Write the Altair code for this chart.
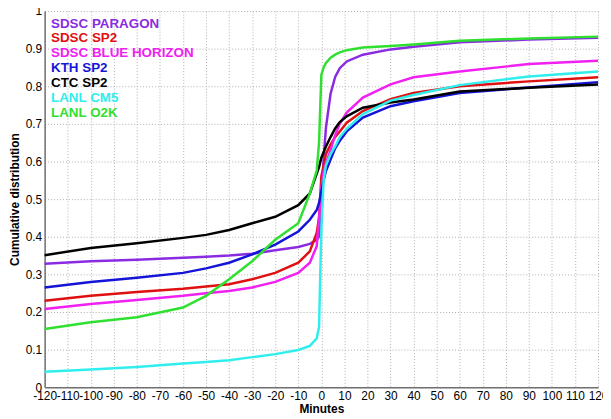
import altair as alt
import pandas as pd

minutes = [-120, -100, -80, -60, -50, -40, -30, -20, -10, -5, -2, -1, 0,
           1, 2, 4, 6, 8, 11, 18, 30, 40, 60, 90, 120]

series_names = ["SDSC PARAGON", "SDSC SP2", "SDSC BLUE HORIZON", "KTH SP2",
                "CTC SP2", "LANL CM5", "LANL O2K"]
series_colors = ["#8a2be2", "#e01010", "#f020f0", "#1414d8",
                 "#000000", "#30eeee", "#30e030"]

sdsc_paragon = [0.328, 0.335, 0.339, 0.344, 0.347, 0.350, 0.355, 0.364, 0.373, 0.381, 0.392, 0.400, 0.450,
                0.610, 0.690, 0.780, 0.825, 0.848, 0.866, 0.884, 0.898, 0.905, 0.917, 0.924, 0.929]
sdsc_sp2 = [0.230, 0.243, 0.253, 0.262, 0.268, 0.274, 0.287, 0.304, 0.331, 0.361, 0.410, 0.450, 0.560,
            0.590, 0.620, 0.645, 0.665, 0.680, 0.703, 0.734, 0.766, 0.782, 0.800, 0.813, 0.824]
sdsc_blue_horizon = [0.208, 0.221, 0.232, 0.243, 0.250, 0.256, 0.265, 0.280, 0.304, 0.331, 0.375, 0.450, 0.530,
                     0.575, 0.595, 0.630, 0.670, 0.700, 0.730, 0.770, 0.805, 0.824, 0.839, 0.859, 0.868]
kth_sp2 = [0.265, 0.280, 0.291, 0.304, 0.316, 0.331, 0.353, 0.379, 0.414, 0.445, 0.471, 0.490, 0.520,
           0.550, 0.575, 0.605, 0.635, 0.655, 0.680, 0.717, 0.747, 0.760, 0.782, 0.797, 0.811]
ctc_sp2 = [0.351, 0.370, 0.383, 0.397, 0.405, 0.418, 0.436, 0.453, 0.484, 0.515, 0.568, 0.585, 0.610,
           0.625, 0.640, 0.665, 0.688, 0.705, 0.720, 0.743, 0.757, 0.765, 0.786, 0.796, 0.805]
lanl_cm5 = [0.041, 0.047, 0.054, 0.063, 0.067, 0.072, 0.080, 0.088, 0.099, 0.110, 0.130, 0.160, 0.420,
            0.550, 0.590, 0.620, 0.640, 0.665, 0.687, 0.726, 0.762, 0.777, 0.803, 0.826, 0.839]
lanl_o2k = [0.155, 0.173, 0.186, 0.212, 0.243, 0.287, 0.335, 0.392, 0.436, 0.515, 0.576, 0.650, 0.830,
            0.850, 0.862, 0.876, 0.884, 0.890, 0.896, 0.903, 0.907, 0.911, 0.921, 0.927, 0.932]

all_values = [sdsc_paragon, sdsc_sp2, sdsc_blue_horizon, kth_sp2, ctc_sp2, lanl_cm5, lanl_o2k]

x_ticks = list(range(-120, 121, 10))
y_ticks = [round(i * 0.1, 1) for i in range(11)]

rows = []
for name, vals in zip(series_names, all_values):
    for m, v in zip(minutes, vals):
        rows.append({"series": name, "minutes": m, "value": v})
df = pd.DataFrame(rows)

color_expr = ""
for n, c in zip(series_names, series_colors):
    color_expr += f"datum.value == '{n}' ? '{c}' : "
color_expr += "'black'"

chart = alt.Chart(df).mark_line(strokeWidth=2.5).encode(
    x=alt.X("minutes:Q",
            scale=alt.Scale(domain=[-120, 120], nice=False, zero=False),
            axis=alt.Axis(values=x_ticks, title="Minutes",
                          labelExpr="'' + datum.value")),
    y=alt.Y("value:Q",
            scale=alt.Scale(domain=[0, 1], nice=False),
            axis=alt.Axis(values=y_ticks, title="Cumulative distribution",
                          format=".1~f")),
    color=alt.Color("series:N",
                    scale=alt.Scale(domain=series_names, range=series_colors),
                    legend=alt.Legend(orient="none", legendX=-7, legendY=6, title=None,
                                      symbolSize=0, symbolOpacity=0, symbolStrokeWidth=0,
                                      labelOffset=0, padding=0, rowPadding=0,
                                      labelFont="Liberation Sans", labelFontSize=13.5,
                                      labelFontWeight="bold", labelLimit=400,
                                      labelColor={"expr": color_expr})),
    order=alt.Order("minutes:Q"),
).properties(
    width=559, height=380,
    autosize=alt.AutoSizeParams(type="none"),
    padding={"left": 37, "top": 1, "right": 5, "bottom": 28},
).configure_view(
    stroke=None
).configure_axis(
    labelFont="Liberation Sans", labelFontSize=12, labelColor="black",
    titleFont="Liberation Sans", titleFontSize=12, titleFontWeight="bold", titleColor="black",
    grid=True, gridColor="#b0b0b0", gridDash=[1, 2], gridWidth=1,
    domainColor="#707070", domainWidth=1.5, ticks=False, labelPadding=3,
    labelOverlap=False, labelFlush=False,
).configure_axisY(
    titlePadding=4
).configure_axisX(
    titlePadding=3
)

chart.save("out.html", embed_options={"renderer": "svg", "actions": False})
